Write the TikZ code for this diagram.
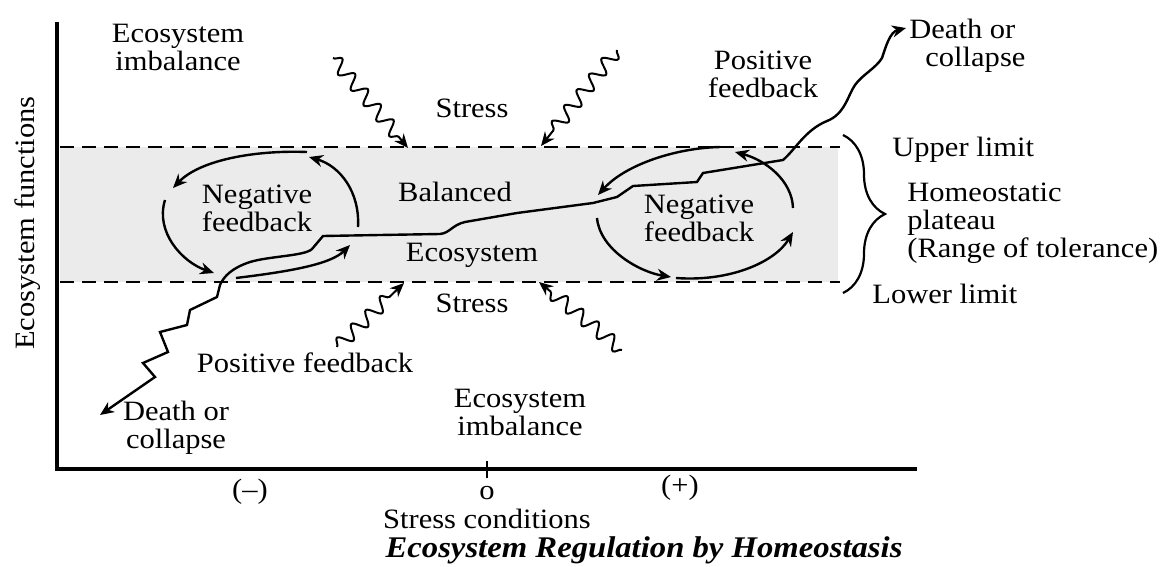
\documentclass[tikz,border=0pt]{standalone}
\usepackage{fontspec}
\setmainfont{Liberation Serif}[FakeStretch=1.09]
\usetikzlibrary{arrows.meta,decorations.pathmorphing,decorations.pathreplacing}
\tikzset{
  lbl/.style={inner sep=0pt, align=center, font=\fontsize{14}{14}\selectfont},
  lbll/.style={inner sep=0pt, align=left, anchor=west, font=\fontsize{14}{14}\selectfont},
  ln/.style={line width=1.2pt},
  tip/.style={-{Stealth[length=7pt,width=6pt]}},
  limit/.style={line width=1.3pt, dash pattern=on 7pt off 4pt},
  stress/.style={line width=1pt, decorate, decoration={snake, segment length=10pt, amplitude=3.4pt, post length=6pt}, -{Stealth[length=7pt,width=6pt]}},
}
\begin{document}
\begin{tikzpicture}[x=0.5pt,y=-0.5pt]
\useasboundingbox (0,0) rectangle (1167,567);
% band
\fill[gray!16] (60,147) rectangle (838,282);
\draw[limit] (60,147) -- (840,147);
\draw[limit] (60,282) -- (840,282);
% axes
\coordinate (ytop) at (57,22);
\coordinate (orig) at (57,469);
\coordinate (xend) at (917,469);
\draw[line width=1.6pt] (ytop) -- (orig) -- (xend);
\coordinate (tk1) at (487,461);
\coordinate (tk2) at (487,478);
\draw[line width=1.3pt] (tk1) -- (tk2);
% brace
\coordinate (bt) at (843,135);
\coordinate (bb) at (843,293);
\draw[line width=1.1pt, decorate, decoration={brace, amplitude=21pt}] (bt) -- (bb);
% texts
\node[lbl, rotate=90] (yl) at (28,223) {Ecosystem functions};
\node[lbl] (eiT) at (178,47) {Ecosystem\\imbalance};
\node[lbl] (stT) at (472,108) {Stress};
\node[lbl] (pfT) at (763,74) {Positive\\feedback};
\node[lbll] (dcT) at (909,46) {Death or\\\hspace*{8pt}collapse};
\node[lbll] (ul) at (892,150) {Upper limit};
\node[lbll] (hp) at (907,223) {Homeostatic\\plateau\\(Range of tolerance)};
\node[lbll] (ll) at (872,294) {Lower limit};
\node[lbl] (nfL) at (257,208) {Negative\\feedback};
\node[lbl] (nfR) at (699,218) {Negative\\feedback};
\node[lbl] (bal) at (455,192) {Balanced};
\node[lbl] (eco) at (472,255) {Ecosystem};
\node[lbl] (stB) at (472,303) {Stress};
\node[lbl] (pfB) at (305,363) {Positive feedback};
\node[lbl] (dcB) at (176,428) {Death or\\collapse};
\node[lbl] (eiB) at (520,412) {Ecosystem\\imbalance};
\node[lbl] (neg) at (250,492) {(--)};
\node[lbl] (pos) at (680,488) {(+)};
\node[lbl] (zero) at (487,493) {o};
\node[lbl] (sc) at (487,519) {Stress conditions};
\node[lbl, font=\fontsize{15}{15}\selectfont\bfseries\itshape] (ttl) at (644,550) {Ecosystem Regulation by Homeostasis};
% main curve
\coordinate (dcL) at (100,415);
\coordinate (dcR) at (906,28);
\draw[ln, {Stealth[length=7pt,width=6pt]}-{Stealth[length=7pt,width=6pt]}]
  (dcL) -- (155,377) -- (143,363) -- (168,352) -- (160,332) -- (187,325) -- (190,310) -- (217,297) -- (220,285)
  .. controls (224,276) and (232,268) .. (250,262)
  .. controls (270,256) and (305,256) .. (312,249)
  -- (323,236) -- (380,235) -- (440,234)
  .. controls (450,233) and (452,225) .. (465,222)
  -- (517,213) -- (593,203) -- (617,197) -- (633,186) -- (697,182) -- (703,173) -- (783,160)
  .. controls (795,150) and (805,130) .. (827,121)
  .. controls (845,114) and (848,95) .. (855,85)
  .. controls (862,75) and (876,68) .. (882,58)
  .. controls (886,46) and (890,32) .. (dcR);
% left negative feedback loop
\coordinate (a1s) at (307,152); \coordinate (a1e) at (173,188);
\coordinate (a2s) at (165,200); \coordinate (a2e) at (214,273);
\coordinate (a3s) at (236,278); \coordinate (a3e) at (350,245);
\coordinate (a4s) at (358,227); \coordinate (a4e) at (309,157);
\draw[ln, tip] (a1s) .. controls (255,150) and (200,160) .. (a1e);
\draw[ln, tip] (a2s) .. controls (155,232) and (182,262) .. (a2e);
\draw[ln, tip] (a3s) .. controls (285,272) and (330,265) .. (a3e);
\draw[ln, tip] (a4s) .. controls (360,192) and (340,166) .. (a4e);
% right negative feedback loop
\coordinate (b1s) at (720,147); \coordinate (b1e) at (598,195);
\coordinate (b2s) at (597,218); \coordinate (b2e) at (671,277);
\coordinate (b3s) at (676,278); \coordinate (b3e) at (793,232);
\coordinate (b4s) at (793,208); \coordinate (b4e) at (735,152);
\draw[ln, tip] (b1s) .. controls (675,148) and (625,165) .. (b1e);
\draw[ln, tip] (b2s) .. controls (600,250) and (640,272) .. (b2e);
\draw[ln, tip] (b3s) .. controls (730,282) and (775,262) .. (b3e);
\draw[ln, tip] (b4s) .. controls (792,180) and (765,160) .. (b4e);
% stress squiggles
\coordinate (s1s) at (333,58);  \coordinate (s1e) at (408,148);
\coordinate (s2s) at (617,50);  \coordinate (s2e) at (541,146);
\coordinate (s3s) at (337,347); \coordinate (s3e) at (404,283);
\coordinate (s4s) at (622,350); \coordinate (s4e) at (539,282);
\draw[stress] (s1s) -- (s1e);
\draw[stress] (s2s) -- (s2e);
\draw[stress] (s3s) -- (s3e);
\draw[stress] (s4s) -- (s4e);
\end{tikzpicture}
\end{document}
